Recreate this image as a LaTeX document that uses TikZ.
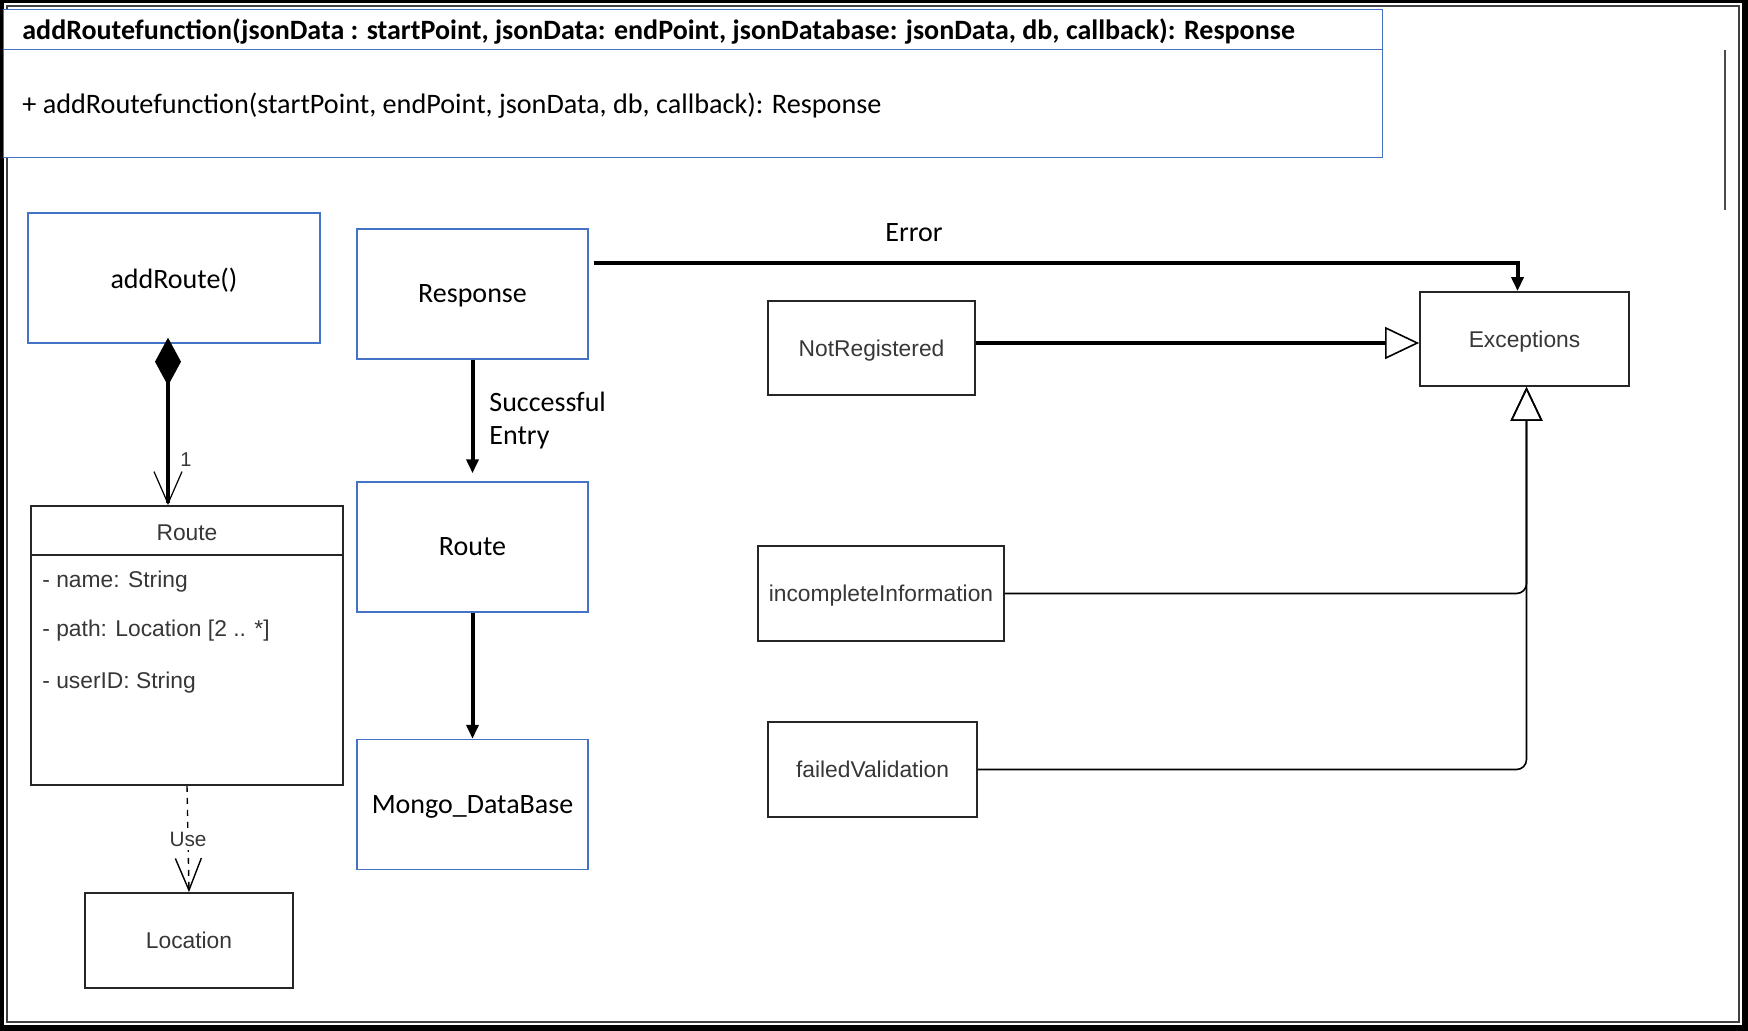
\documentclass[tikz,border=0pt]{standalone}
\usepackage{fontspec}
\setmainfont{Carlito}
\newfontfamily\drawiofont{Liberation Sans}
\usepackage{tikz}
\usetikzlibrary{arrows.meta}
\definecolor{boxblue}{RGB}{68,114,196}
\definecolor{umlgray}{RGB}{55,55,55}

\begin{document}
\begin{tikzpicture}[x=0.5pt, y=-0.5pt,
  bluebox/.style={draw=boxblue, line width=0.7pt, inner sep=0, text depth=0pt, minimum width=115.5pt, minimum height=65pt, font=\fontsize{14}{16}\selectfont},
  umlbox/.style={draw=black!85, line width=0.9pt, inner sep=0, text depth=0pt, text=umlgray, font=\drawiofont\fontsize{11.4}{13}\selectfont},
  umltext/.style={text=umlgray, inner sep=0, font=\drawiofont\fontsize{11.4}{13}\selectfont},
  flow/.style={line width=2pt, -{Triangle[length=7pt,width=6pt]}},
  gen/.style={-{Triangle[open,length=17pt,width=16pt,line width=0.8pt]}}]
\useasboundingbox (0,0) rectangle (1748,1031);
%\node {\includegraphics{ref.png}};
\fill[black] (0,0) rectangle (1748,1031);
\fill[white] (4,3) rectangle (1742,1025);
\draw[black!75, line width=0.8pt] (7,6) rectangle (1739,1022);
\draw[black!70, line width=1pt] (1725,50) -- (1725,210);
% class header
\node[bluebox, fill=white, minimum width=689.5pt, minimum height=20pt, anchor=north west] (head) at (3,9) {};
\node[bluebox, fill=white, minimum width=689.5pt, minimum height=54pt, anchor=north west] (ops) at (3,49) {};
\node[anchor=west, inner sep=0, font=\bfseries\fontsize{14}{16}\selectfont] (headtext) at (22,31) {addRoutefunction(jsonData : startPoint, jsonData: endPoint, jsonDatabase: jsonData, db, callback): Response};
\node[anchor=west, inner sep=0, font=\fontsize{14.1}{16}\selectfont] (optext) at (22,106) {+ addRoutefunction(startPoint, endPoint, jsonData, db, callback): Response};
% left column
\node[bluebox, minimum width=146pt] (addroute) at (174,278) {addRoute()};
\node[umlbox, minimum width=156pt, minimum height=139.5pt] (routecls) at (187,645.5) {};
\draw[black!85, line width=0.9pt] (routecls.west |- 0,555) -- (routecls.east |- 0,555);
\node[umltext] (routetitle) at (187,533) {Route};
\node[umltext, anchor=west] (attname) at (42,582) {- name: String};
\node[umltext, anchor=west] (attpath) at (42,631) {- path: Location [2 .. *]};
\node[umltext, anchor=west] (attuser) at (42,683) {- userID: String};
\node[umlbox, minimum width=104pt, minimum height=47.5pt] (location) at (189,940.5) {Location};
\draw[line width=2pt, {Diamond[length=24pt,width=13pt]}-{Straight Barb[length=16pt,width=14pt,line width=0.6pt]}] ([xshift=-3pt,yshift=3pt]addroute.south) -- ([xshift=-9.5pt]routecls.north);
\node[umltext, font=\drawiofont\fontsize{10}{12}\selectfont] (mult) at (186,460) {1};
\draw[dashed, line width=0.7pt, -{Straight Barb[length=16pt,width=13pt]}] (routecls.south) -- (location.north)
  node[pos=0.5, fill=white, umltext, font=\drawiofont\fontsize{10.4}{12}\selectfont, inner sep=2pt] {Use};
% middle column
\node[bluebox] (response) at (472.5,294) {Response};
\node[bluebox] (routestep) at (472.5,547) {Route};
\node[bluebox] (mongo) at (472.5,804.5) {Mongo\_DataBase};
\draw[flow] (response.south) -- ([yshift=4pt]routestep.north);
\node[anchor=west, align=left, inner sep=0, font=\fontsize{14}{16.5}\selectfont] (success) at (489,421) {Successful\\Entry};
\draw[flow] (routestep.south) -- (mongo.north);
% exceptions
\node[umlbox, minimum width=103.5pt, minimum height=47pt] (notreg) at (871.5,348) {NotRegistered};
\node[umlbox, minimum width=123pt, minimum height=47.5pt] (incomplete) at (881,593.5) {incompleteInformation};
\node[umlbox, minimum width=104.5pt, minimum height=47.5pt] (failed) at (872.5,769.5) {failedValidation};
\node[umlbox, minimum width=104.5pt, minimum height=47pt] (exceptions) at (1524.5,339) {Exceptions};
\draw[flow] ([shift={(2.5pt,15.5pt)}]response.east) -| ([xshift=-3.5pt]exceptions.north);
\node[inner sep=0, font=\fontsize{14}{16}\selectfont] (errlabel) at (914,233) {Error};
\draw[gen, line width=2pt] ([yshift=2.5pt]notreg.east) -- ([yshift=-2pt]exceptions.west);
\draw[gen, line width=0.8pt, rounded corners=5pt] (incomplete.east) -| ([xshift=1pt]exceptions.south);
\draw[gen, line width=0.8pt, rounded corners=5pt] (failed.east) -| ([xshift=1pt]exceptions.south);
\end{tikzpicture}
\end{document}
